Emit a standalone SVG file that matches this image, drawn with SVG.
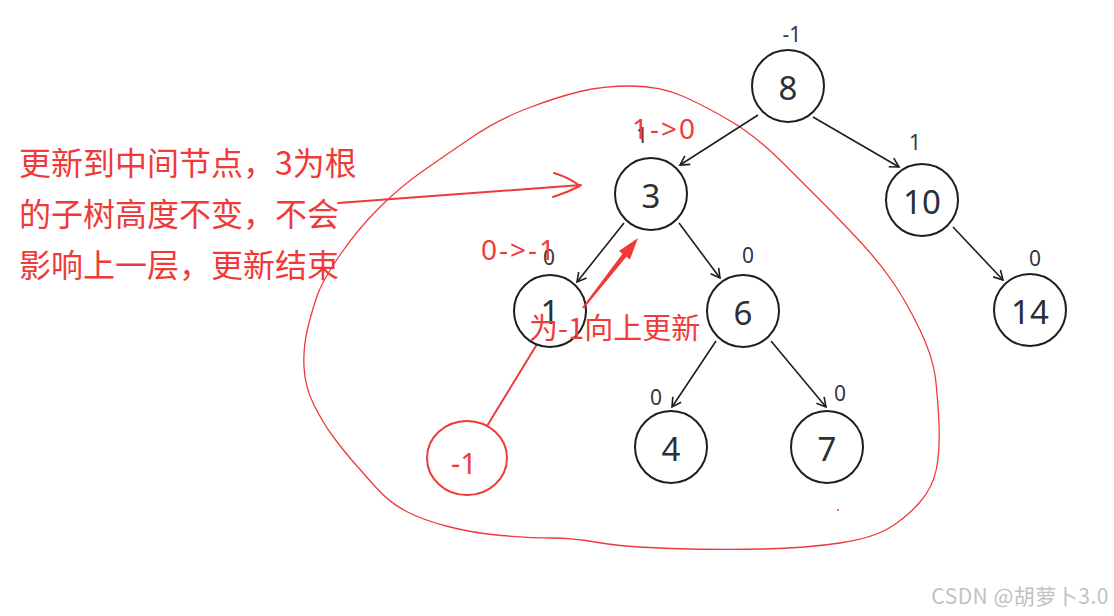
<svg xmlns="http://www.w3.org/2000/svg" width="1114" height="616" viewBox="0 0 1114 616">
<defs>
<style>
.node circle{fill:#fff;stroke:#1e1e1e;stroke-width:2}
.lbl{font-family:"Noto Sans","Open Sans","DejaVu Sans",sans-serif;font-size:33px;fill:#2b2f36;text-anchor:middle}
.bf{font-family:"Noto Sans","Open Sans","DejaVu Sans",sans-serif;font-size:21px;fill:#33363c;text-anchor:middle}
.edge{stroke:#1e1e1e;stroke-width:1.6;fill:none;marker-end:url(#ah)}
.red{fill:#f03a3a;font-family:"Noto Sans","Noto Sans CJK SC",sans-serif}
.cjk{fill:#f03a3a;font-family:"Noto Sans CJK SC","Noto Sans",sans-serif}
.rs{stroke:#f03a3a;fill:none;stroke-linecap:round;stroke-linejoin:round}
</style>
<marker id="ah" viewBox="0 0 12 12" refX="10" refY="6" markerWidth="12" markerHeight="12" markerUnits="userSpaceOnUse" orient="auto">
<path d="M1,1 L10,6 L1,11" fill="none" stroke="#1e1e1e" stroke-width="1.6"/>
</marker>
</defs>
<rect width="1114" height="616" fill="#fff"/>

<!-- big red loop -->
<path class="rs" stroke-width="1.3" d="M 340,255 Q 357,230 378.5,208.5 Q 400,187 421.5,172 Q 443,157 470,138.5 Q 497,120 527,108.5 Q 557,97 580,91.5 Q 603,86 631.5,86 Q 660,86 683.5,96.5 Q 707,107 732,122 Q 757,137 782,162 Q 807,187 823.5,203.5 Q 840,220 860,241.5 Q 880,263 893.5,283 Q 907,303 920,330 Q 933,357 935.5,378.5 Q 938,400 939,425 Q 940,450 936.5,468.5 Q 933,487 920,502 Q 907,517 890,527.5 Q 873,538 840,543 Q 807,548 763.5,549 Q 720,550 671.5,548.5 Q 623,547 598,542.5 Q 573,538 551.5,538 Q 530,538 501.5,535.5 Q 473,533 448,526.5 Q 423,520 406.5,511.5 Q 390,503 376.5,488 Q 363,473 353,461.5 Q 343,450 333,436.5 Q 323,423 314,405 Q 305,387 304,367 Q 303,347 308,327 Q 313,307 318,293.5 Q 323,280 340,255 Z"/>
<circle cx="838" cy="510" r="1" fill="#f03a3a"/>

<g id="connectors">
<line class="edge" x1="758" y1="115" x2="680" y2="165"/>
<line class="edge" x1="813" y1="117" x2="899" y2="167"/>
<line class="edge" x1="953" y1="227" x2="1003" y2="280"/>
<line class="edge" x1="624" y1="223" x2="577" y2="282"/>
<line class="edge" x1="679" y1="223" x2="720" y2="278"/>
<line class="edge" x1="716" y1="341" x2="672" y2="407"/>
<line class="edge" x1="771" y1="341" x2="826" y2="407"/>
<line class="rs" stroke-width="2" x1="487" y1="426" x2="539" y2="341"/>
</g>

<g id="n8" class="node"><circle cx="788" cy="86" r="36"/><text class="lbl" x="788" y="100">8</text><text class="bf" x="792" y="42">-1</text></g>
<g id="n10" class="node"><circle cx="922" cy="200" r="36"/><text class="lbl" x="922" y="214">10</text><text class="bf" x="915" y="150">1</text></g>
<g id="n14" class="node"><circle cx="1030" cy="310" r="36"/><text class="lbl" x="1030" y="324">14</text><text class="bf" x="1035" y="266">0</text></g>
<g id="n3" class="node"><circle cx="651" cy="194" r="36"/><text class="lbl" x="651" y="208">3</text><text class="bf" x="642" y="143">1</text></g>
<g id="n1" class="node"><circle cx="550" cy="311" r="36"/><text class="lbl" x="550" y="324">1</text><text class="bf" x="549" y="265">0</text></g>
<g id="n6" class="node"><circle cx="743" cy="311" r="36"/><text class="lbl" x="743" y="325">6</text><text class="bf" x="748" y="263">0</text></g>
<g id="n4" class="node"><circle cx="671" cy="447" r="36"/><text class="lbl" x="671" y="461">4</text><text class="bf" x="656" y="405">0</text></g>
<g id="n7" class="node"><circle cx="827" cy="447" r="36"/><text class="lbl" x="827" y="461">7</text><text class="bf" x="840" y="401">0</text></g>

<g id="nm1">
<ellipse cx="467" cy="458" rx="40" ry="37" fill="none" stroke="#f03a3a" stroke-width="2"/>
<text class="red" x="464" y="474" font-size="29" text-anchor="middle">-1</text>
</g>

<!-- red annotations -->
<text class="red" x="632" y="139" font-size="28" letter-spacing="2">1->0</text>
<text class="red" x="481" y="260" font-size="28" letter-spacing="2">0->-1</text>
<text class="cjk" x="529" y="339" font-size="29">为-1向上更新</text>

<g id="note">
<text class="cjk" x="19" y="175" font-size="32">更新到中间节点，3为根</text>
<text class="cjk" x="19" y="226" font-size="32">的子树高度不变，不会</text>
<text class="cjk" x="19" y="277" font-size="32">影响上一层，更新结束</text>
</g>
<path class="rs" stroke-width="2" d="M338,203 L581,185 M554,173 Q570,178 580,186 Q568,192 553,197"/>
<polygon fill="#f03a3a" points="638,238 629.9,259.6 626.4,256.8 583.8,308.6 582.2,307.4 622.4,253.8 618.9,251"/>

<text x="1109" y="604" font-family="Noto Sans CJK SC, Noto Sans, sans-serif" font-size="21" letter-spacing="0.5" fill="#c2c2c2" text-anchor="end">CSDN @胡萝卜3.0</text>
</svg>
